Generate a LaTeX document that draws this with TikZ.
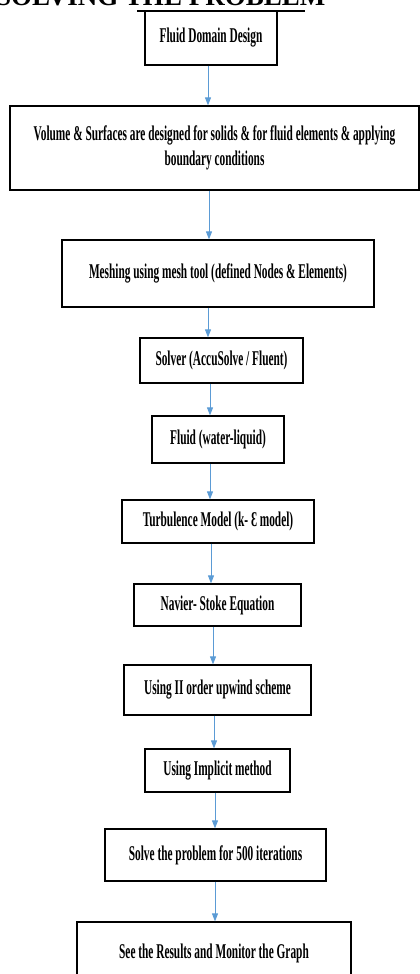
\documentclass[tikz,border=0pt]{standalone}
\usepackage{fontspec}
\setmainfont{Liberation Serif}
\newfontfamily\boxfont[FakeStretch=0.54]{Liberation Serif}
\usetikzlibrary{arrows.meta,shadows}
\definecolor{arrowblue}{HTML}{5B9BD5}
\tikzset{
  stepbox/.style={draw=black, line width=1.2pt, fill=white, align=center,
    inner sep=0pt, font=\boxfont\bfseries\fontsize{21}{25}\selectfont,
    drop shadow={shadow xshift=1pt, shadow yshift=-1pt, fill=black!35, opacity=0.6}},
  flow/.style={draw=arrowblue, line width=0.9pt, -{Triangle[width=6pt,length=8pt]}},
}
\begin{document}
\begin{tikzpicture}[x=1pt,y=1pt]
\useasboundingbox (0,0) rectangle (420,-974);
\clip (0,0) rectangle (420,-974);
% cut-off title
\node[anchor=base west, inner sep=0pt, font=\bfseries\fontsize{27}{30}\selectfont] (title) at (-4,-6) {SOLVING THE PROBLEM};
\draw[line width=1.2pt] (137,-11) -- (305,-11);
% boxes
\node[stepbox, minimum width=132, minimum height=54] (b1) at (211,-38) {Fluid Domain Design};
\node[stepbox, minimum width=409, minimum height=84] (b2) at (214.5,-148) {Volume \& Surfaces are designed for solids \& for fluid elements \& applying\\boundary conditions};
\node[stepbox, minimum width=312, minimum height=67] (b3) at (218,-273.5) {Meshing using mesh tool (defined Nodes \& Elements)};
\node[stepbox, minimum width=163, minimum height=45] (b4) at (221.5,-360.5) {Solver (AccuSolve / Fluent)};
\node[stepbox, minimum width=132, minimum height=47] (b5) at (218,-439.5) {Fluid (water-liquid)};
\node[stepbox, minimum width=192, minimum height=43] (b6) at (218,-521.5) {Turbulence Model (k- Ɛ model)};
\node[stepbox, minimum width=167, minimum height=42] (b7) at (217.5,-605) {Navier- Stoke Equation};
\node[stepbox, minimum width=187, minimum height=50] (b8) at (217.5,-690) {Using II order upwind scheme};
\node[stepbox, minimum width=145, minimum height=43] (b9) at (217.5,-770.5) {Using Implicit method};
\node[stepbox, minimum width=221, minimum height=52] (b10) at (215.5,-855) {Solve the problem for 500 iterations};
\node[stepbox, minimum width=274, minimum height=62] (b11) at (214,-953) {See the Results and Monitor the Graph};
% arrow columns
\coordinate (a1) at (208,0);
\coordinate (a2) at (209,0);
\coordinate (a3) at (208,0);
\coordinate (a4) at (210,0);
\coordinate (a5) at (210,0);
\coordinate (a6) at (211,0);
\coordinate (a7) at (213,0);
\coordinate (a8) at (214,0);
\coordinate (a9) at (215,0);
\coordinate (a10) at (215,0);
\draw[flow] (b1.south -| a1) -- (b2.north -| a1);
\draw[flow] (b2.south -| a2) -- (b3.north -| a2);
\draw[flow] (b3.south -| a3) -- (b4.north -| a3);
\draw[flow] (b4.south -| a4) -- (b5.north -| a4);
\draw[flow] (b5.south -| a5) -- (b6.north -| a5);
\draw[flow] (b6.south -| a6) -- (b7.north -| a6);
\draw[flow] (b7.south -| a7) -- (b8.north -| a7);
\draw[flow] (b8.south -| a8) -- (b9.north -| a8);
\draw[flow] (b9.south -| a9) -- (b10.north -| a9);
\draw[flow] (b10.south -| a10) -- (b11.north -| a10);
\end{tikzpicture}
\end{document}
